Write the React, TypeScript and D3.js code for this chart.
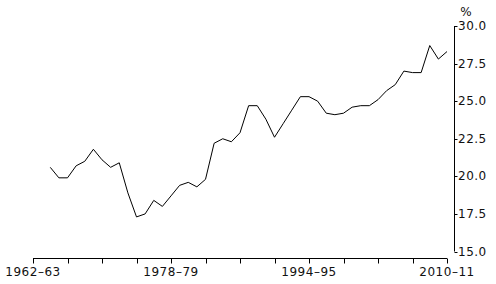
import React from "react";
import * as d3 from "d3";

const startYear = 1962;
const endYear = 2010;
const firstDataYear = 1964;
const values = [
  20.6, 19.9, 19.9, 20.7, 21.0, 21.8, 21.1, 20.6, 20.9, 18.9,
  17.3, 17.5, 18.4, 18.0, 18.7, 19.4, 19.6, 19.3, 19.8, 22.2,
  22.5, 22.3, 22.9, 24.7, 24.7, 23.8, 22.6, 23.5, 24.4, 25.3,
  25.3, 25.0, 24.2, 24.1, 24.2, 24.6, 24.7, 24.7, 25.1, 25.7,
  26.1, 27.0, 26.9, 26.9, 28.7, 27.8, 28.3,
];
const yTicks = [15, 17.5, 20, 22.5, 25, 27.5, 30];
const xLabelYears = [1962, 1978, 1994, 2010];
const yUnit = "%";

const fmtFY = (y: number) => `${y}–${String((y + 1) % 100).padStart(2, "0")}`;

export default function App() {
  const W = 496, H = 284;
  const x = d3.scaleLinear().domain([startYear, endYear]).range([33, 447]);
  const y = d3.scaleLinear().domain([15, 30]).range([251.5, 26]);
  const data = values.map((v, i) => ({ year: firstDataYear + i, v }));
  const line = d3
    .line<{ year: number; v: number }>()
    .x((d) => x(d.year))
    .y((d) => y(d.v));
  const xTicks = d3.range(startYear, endYear + 1, 4);
  const axisX = 454.5;
  const baseY = 258.5;
  const font = "DejaVu Sans, Verdana, sans-serif";
  const fs = 12;
  const ls = 0.5;
  return (
    <svg
      width={W}
      height={H}
      style={{ position: "absolute", left: 0, top: 0, background: "#fff" }}
    >
      <path d={line(data) || ""} fill="none" stroke="#000" strokeWidth={1} />
      {/* x axis */}
      <line x1={x(startYear)} x2={x(endYear)} y1={baseY} y2={baseY} stroke="#000" />
      {xTicks.map((t) => (
        <line key={t} x1={Math.round(x(t)) + 0.5} x2={Math.round(x(t)) + 0.5} y1={baseY} y2={baseY + 5} stroke="#000" />
      ))}
      {xLabelYears.map((t) => (
        <text key={t} x={x(t)} y={276} textAnchor="middle" fontFamily={font} fontSize={fs} letterSpacing={ls} fill="#111">
          {fmtFY(t)}
        </text>
      ))}
      {/* y axis */}
      <line x1={axisX} x2={axisX} y1={y(30)} y2={y(15)} stroke="#000" />
      {yTicks.map((t) => (
        <g key={t}>
          <line x1={axisX} x2={axisX + 3} y1={Math.round(y(t)) + 0.5} y2={Math.round(y(t)) + 0.5} stroke="#000" />
          <text x={458} y={y(t) + 4} fontFamily={font} fontSize={fs} letterSpacing={ls} fill="#111">
            {t.toFixed(1)}
          </text>
        </g>
      ))}
      <text x={466} y={16} textAnchor="middle" fontFamily={font} fontSize={fs} fill="#111">
        {yUnit}
      </text>
    </svg>
  );
}
